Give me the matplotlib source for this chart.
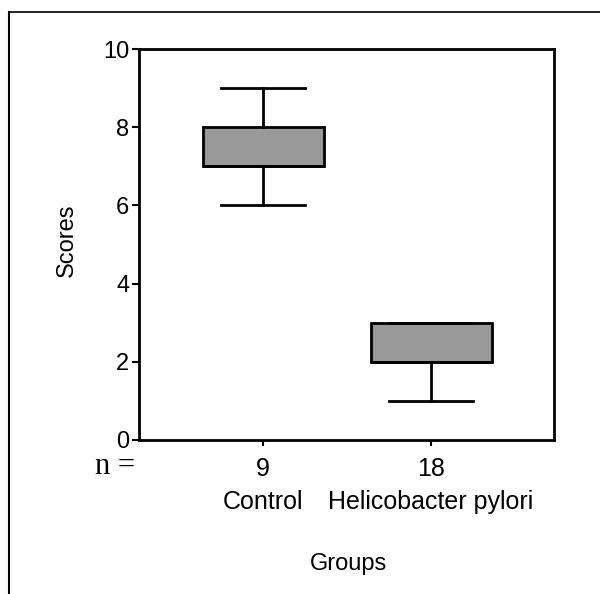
import matplotlib.pyplot as plt
from matplotlib.lines import Line2D

# data
groups = ["Control", "Helicobacter pylori"]
n_counts = [9, 18]
whisker_low = [6, 1]
q1 = [7, 2]
median = [7, 2]
q3 = [8, 3]
whisker_high = [9, 3]

box_color = "#999999"

fig = plt.figure(figsize=(6, 5.94), dpi=100)
plt.rcParams["font.family"] = ["Liberation Sans", "DejaVu Sans"]

ax = fig.add_axes([0.2317, 0.2593, 0.6917, 0.6582])

stats = []
for i in range(len(groups)):
    stats.append(dict(whislo=whisker_low[i], q1=q1[i], med=median[i],
                      q3=q3[i], whishi=whisker_high[i], fliers=[]))

ax.bxp(stats, positions=[1, 2], widths=0.72, capwidths=0.5,
       patch_artist=True, showfliers=False,
       boxprops=dict(facecolor=box_color, edgecolor="black", linewidth=2),
       whiskerprops=dict(color="black", linewidth=2),
       capprops=dict(color="black", linewidth=2),
       medianprops=dict(color="black", linewidth=2))

ax.set_xlim(0.262, 2.732)
ax.set_ylim(0, 10)
ax.set_yticks([0, 2, 4, 6, 8, 10])
ax.set_xticks([1, 2])
ax.set_xticklabels([f"{n}\n{g}" for n, g in zip(n_counts, groups)],
                   linespacing=1.5)

for s in ax.spines.values():
    s.set_linewidth(2)
ax.tick_params(axis="y", length=5, width=1.5, pad=2, labelsize=17)
ax.tick_params(axis="x", length=4, width=1.5, pad=8, labelsize=18)

ax.set_ylabel("Scores", fontsize=17)
ax.yaxis.set_label_coords(-0.147, 0.51)
ax.set_xlabel("Groups", fontsize=17)
ax.xaxis.set_label_coords(0.504, -0.29)

fig.text(95 / 600, 1 - 467 / 594, "n =", ha="left", va="center",
         fontsize=22, family="Liberation Serif")

# outer frame (top and left edges only visible)
fig.add_artist(Line2D([9 / 600, 1], [1 - 12 / 594, 1 - 12 / 594],
                      transform=fig.transFigure, color="black", linewidth=1.2))
fig.add_artist(Line2D([9 / 600, 9 / 600], [0, 1 - 12 / 594],
                      transform=fig.transFigure, color="black", linewidth=1.5))

fig.savefig("out.png", dpi=100)
